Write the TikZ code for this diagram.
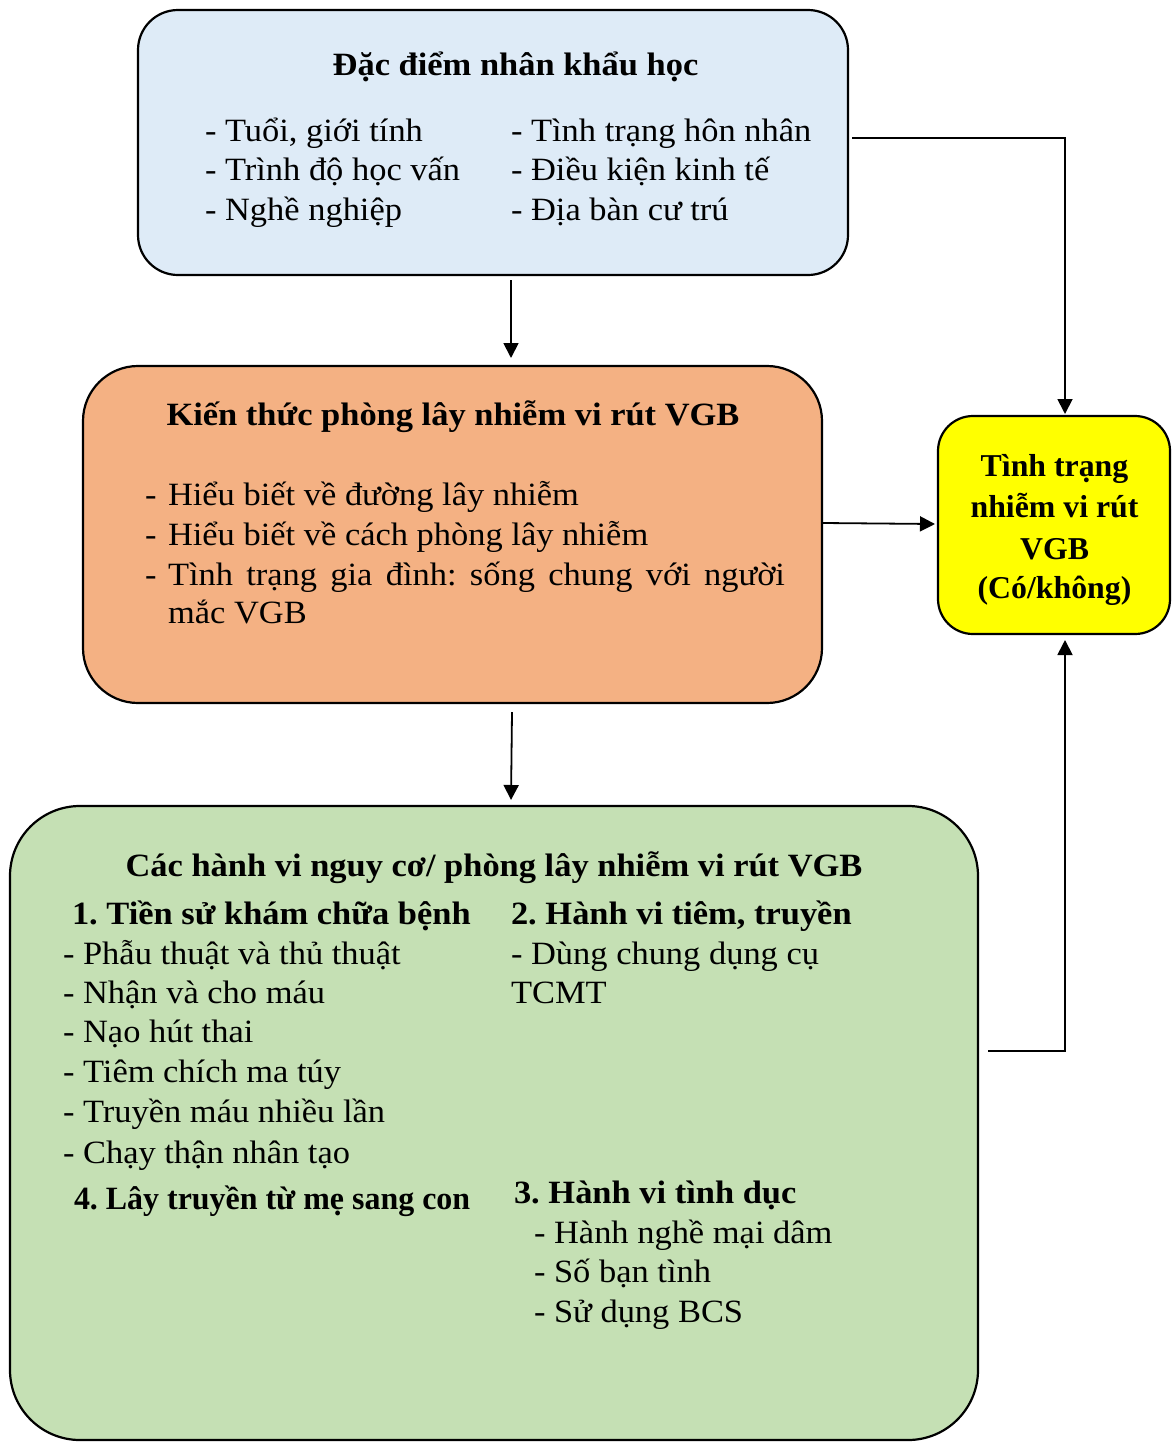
\documentclass[tikz,border=0pt]{standalone}
\usepackage{fontspec}
\usepackage{graphicx}
\setmainfont{Liberation Serif}[FakeStretch=1.06]
\newfontfamily\plainserif{Liberation Serif}
\usetikzlibrary{arrows.meta}
\definecolor{cblue}{HTML}{DEEBF7}
\definecolor{corange}{HTML}{F4B183}
\definecolor{cyellow}{HTML}{FFFF00}
\definecolor{cgreen}{HTML}{C5E0B4}
\frenchspacing
\tikzset{
  boxstyle/.style={draw=black, line width=2.2pt, inner sep=0pt, outer sep=0pt},
  txt/.style={inner sep=0pt, outer sep=0pt, anchor=base west, font=\frenchspacing\fontsize{32.5}{40}\selectfont},
  ttl/.style={inner sep=0pt, outer sep=0pt, anchor=base, font=\frenchspacing\fontsize{32.5}{40}\selectfont\bfseries},
  ytxt/.style={inner sep=0pt, outer sep=0pt, anchor=base, font=\plainserif\fontsize{31.8}{40}\selectfont\bfseries},
  btxt/.style={txt, font=\frenchspacing\fontsize{32.5}{40}\selectfont\bfseries},
  arr/.style={line width=1.8pt, -{Triangle[length=15pt,width=15pt]}}
}
\begin{document}
\begin{tikzpicture}[x=1pt,y=-1pt]
\useasboundingbox (0,0) rectangle (1174,1443);
% boxes
\node[boxstyle, fill=cblue, rounded corners=40pt, minimum width=710pt, minimum height=265pt] (blue) at (493,142.5) {};
\node[boxstyle, fill=corange, rounded corners=55pt, minimum width=739pt, minimum height=337pt] (orange) at (452.5,534.5) {};
\node[boxstyle, fill=cyellow, rounded corners=35pt, minimum width=232pt, minimum height=218pt] (yellow) at (1054,525) {};
\node[boxstyle, fill=cgreen, rounded corners=70pt, minimum width=968pt, minimum height=634pt] (green) at (494,1123) {};
% blue text
\node[ttl] (bt) at (515.5,75) {Đặc điểm nhân khẩu học};
\node[txt] (b1) at (205,141) {- Tuổi, giới tính};
\node[txt] (b2) at (205,180) {- Trình độ học vấn};
\node[txt] (b3) at (205,220) {- Nghề nghiệp};
\node[txt] (b4) at (511,141) {- Tình trạng hôn nhân};
\node[txt] (b5) at (511,180) {- Điều kiện kinh tế};
\node[txt] (b6) at (511,220) {- Địa bàn cư trú};
% orange text
\node[ttl] (ot) at (453,425) {Kiến thức phòng lây nhiễm vi rút VGB};
\node[txt] (o1d) at (145,505) {-};
\node[txt] (o1) at (168,505) {Hiểu biết về đường lây nhiễm};
\node[txt] (o2d) at (145,545) {-};
\node[txt] (o2) at (168,545) {Hiểu biết về cách phòng lây nhiễm};
\node[txt] (o3d) at (145,585) {-};
\node[txt] (o3) at (168,585) {\makebox[617pt][s]{Tình trạng gia đình: sống chung với người}};
\node[txt] (o4) at (168,623) {mắc VGB};
% yellow text
\node[ytxt] (y1) at (1054.5,476) {Tình trạng};
\node[ytxt] (y2) at (1054.5,517) {nhiễm vi rút};
\node[ytxt] (y3) at (1054.5,559) {VGB};
\node[ytxt] (y4) at (1054.5,598) {(Có/không)};
% green text
\node[ttl] (gt) at (494,876) {Các hành vi nguy cơ/ phòng lây nhiễm vi rút VGB};
\node[btxt] (g1) at (72,924) {1. Tiền sử khám chữa bệnh};
\node[txt] (g11) at (63,964) {- Phẫu thuật và thủ thuật};
\node[txt] (g12) at (63,1003) {- Nhận và cho máu};
\node[txt] (g13) at (63,1042) {- Nạo hút thai};
\node[txt] (g14) at (63,1082) {- Tiêm chích ma túy};
\node[txt] (g15) at (63,1122) {- Truyền máu nhiều lần};
\node[txt] (g16) at (63,1163) {- Chạy thận nhân tạo};
\node[btxt] (g2) at (511,924) {2. Hành vi tiêm, truyền};
\node[txt] (g21) at (511,964) {- Dùng chung dụng cụ};
\node[txt] (g22) at (511,1003) {TCMT};
\node[btxt] (g4) at (74,1209) {\scalebox{0.927}[1]{4. Lây truyền từ mẹ sang con}};
\node[btxt] (g3) at (514,1203) {3. Hành vi tình dục};
\node[txt] (g31) at (534,1243) {- Hành nghề mại dâm};
\node[txt] (g32) at (534,1282) {- Số bạn tình};
\node[txt] (g33) at (534,1322) {- Sử dụng BCS};
% connectors
\draw[arr] ([xshift=18pt,yshift=-5pt]blue.south) -- ([xshift=58.5pt,yshift=8pt]orange.north);
\draw[arr] ([xshift=4pt,yshift=4.5pt]blue.east) -| ([xshift=11pt,yshift=2pt]yellow.north);
\draw[arr] ([xshift=1pt,yshift=11.5pt]orange.east) -- ([xshift=-3pt,yshift=1pt]yellow.west);
\draw[arr] ([xshift=59.5pt,yshift=-9pt]orange.south) -- ([xshift=17pt,yshift=6pt]green.north);
\draw[arr] ([xshift=10pt,yshift=72pt]green.east) -| ([xshift=11pt,yshift=-6pt]yellow.south);
\end{tikzpicture}
\end{document}
